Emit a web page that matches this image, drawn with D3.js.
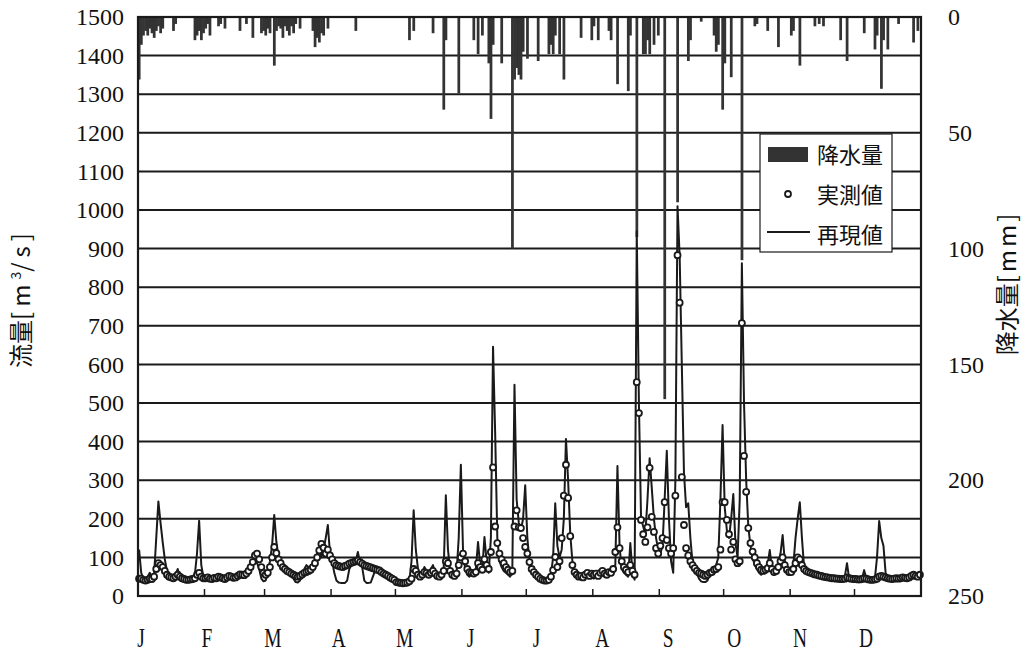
<!DOCTYPE html>
<html>
<head>
<meta charset="utf-8">
<script src="https://cdn.jsdelivr.net/npm/d3@7"></script>
<style>
  body { margin: 0; background: #fff; }
  text { fill: #111; }
</style>
</head>
<body>
<div id="chart"></div>
<script>
const width = 1025;
const height = 655;

// month labels and lengths (non-leap year)
const monthLabels = ["J", "F", "M", "A", "M", "J", "J", "A", "S", "O", "N", "D"];
const monthDays = [31, 28, 31, 30, 31, 30, 31, 31, 30, 31, 30, 31];

// simulated discharge (再現値), m3/s, one value per day, grouped by month
const simulatedFlow = [
  [120, 60, 45, 45, 50, 60, 48, 55, 150, 245, 190, 140, 95, 65, 55, 50, 45, 55, 70, 50, 45, 42, 40, 40, 42, 45, 55, 110, 195, 80, 50],
  [48, 50, 46, 45, 50, 48, 52, 50, 47, 45, 50, 55, 52, 48, 50, 55, 60, 58, 55, 60, 70, 80, 90, 95, 85, 70, 45, 38],
  [40, 60, 90, 130, 210, 140, 100, 85, 70, 75, 65, 70, 60, 45, 36, 35, 40, 55, 70, 80, 75, 70, 80, 95, 110, 120, 100, 120, 150, 184, 110],
  [90, 60, 40, 35, 34, 34, 34, 40, 70, 80, 85, 90, 114, 85, 75, 40, 34, 34, 35, 50, 65, 70, 65, 60, 55, 50, 48, 45, 42, 40],
  [36, 34, 33, 32, 33, 35, 40, 90, 222, 120, 70, 55, 60, 75, 65, 55, 70, 80, 60, 50, 55, 60, 70, 261, 120, 65, 55, 50, 60, 150, 340],
  [120, 70, 55, 50, 60, 55, 70, 140, 80, 70, 153, 90, 60, 150, 646, 420, 150, 90, 75, 65, 60, 55, 50, 70, 547, 250, 190, 170, 200, 287],
  [150, 90, 70, 60, 55, 50, 48, 45, 42, 40, 45, 55, 100, 240, 130, 100, 120, 200, 407, 300, 160, 90, 55, 48, 45, 42, 45, 50, 55, 50, 48],
  [45, 50, 48, 55, 60, 52, 50, 58, 55, 62, 80, 337, 127, 70, 60, 55, 50, 137, 60, 42, 945, 500, 200, 180, 160, 250, 357, 280, 200, 150, 120],
  [110, 130, 250, 376, 200, 90, 60, 300, 1010, 880, 600, 320, 230, 240, 150, 85, 70, 60, 45, 38, 36, 36, 40, 60, 55, 70, 80, 100, 250, 443],
  [230, 170, 150, 200, 264, 137, 100, 250, 862, 500, 300, 180, 130, 100, 80, 70, 60, 55, 60, 65, 80, 119, 70, 55, 60, 80, 110, 158, 90, 60, 55],
  [60, 80, 150, 200, 243, 150, 75, 65, 60, 58, 55, 55, 52, 50, 50, 48, 47, 46, 45, 45, 44, 44, 43, 43, 42, 50, 85, 45, 43, 42],
  [42, 42, 43, 45, 67, 45, 42, 42, 41, 45, 100, 194, 150, 130, 60, 48, 46, 45, 50, 47, 46, 48, 50, 47, 46, 45, 50, 48, 46, 44, 45]
];

// observed discharge (実測値), m3/s
const observedFlow = [
  [45, 45, 42, 40, 42, 45, 44, 50, 70, 85, 80, 75, 65, 55, 50, 48, 46, 50, 55, 50, 46, 44, 42, 42, 43, 44, 46, 55, 60, 50, 46],
  [46, 48, 45, 44, 47, 46, 50, 48, 46, 44, 48, 52, 50, 47, 48, 52, 56, 55, 54, 58, 65, 75, 88, 105, 110, 95, 75, 60],
  [55, 60, 75, 100, 127, 111, 95, 85, 75, 70, 65, 62, 58, 55, 52, 50, 52, 56, 60, 62, 65, 68, 75, 85, 100, 118, 135, 125, 110, 120, 105],
  [95, 85, 80, 78, 76, 75, 78, 80, 84, 86, 88, 90, 92, 88, 84, 80, 78, 76, 74, 72, 70, 68, 66, 62, 58, 55, 52, 48, 45, 42],
  [36, 35, 34, 33, 34, 35, 38, 45, 70, 65, 55, 50, 55, 62, 60, 55, 60, 65, 58, 52, 50, 55, 65, 90, 85, 65, 55, 52, 58, 80, 100],
  [110, 90, 70, 62, 60, 58, 62, 85, 75, 68, 95, 80, 70, 114, 333, 180, 137, 110, 95, 85, 75, 68, 62, 65, 180, 222, 178, 176, 150, 127],
  [110, 88, 70, 62, 55, 50, 45, 42, 40, 40, 42, 50, 67, 101, 75, 90, 150, 260, 340, 254, 155, 80, 62, 55, 50, 52, 48, 55, 60, 52, 58],
  [55, 58, 52, 60, 65, 58, 55, 62, 60, 70, 114, 178, 124, 90, 75, 68, 62, 80, 65, 55, 554, 474, 197, 160, 140, 178, 332, 205, 166, 124, 110],
  [130, 150, 243, 145, 124, 110, 124, 260, 883, 760, 308, 184, 124, 105, 90, 80, 72, 65, 60, 58, 55, 52, 55, 60, 62, 68, 70, 75, 120, 243],
  [243, 197, 160, 120, 140, 95, 85, 90, 707, 363, 270, 176, 137, 115, 100, 85, 75, 68, 65, 68, 72, 85, 70, 62, 65, 75, 90, 100, 80, 68, 62],
  [62, 70, 85, 100, 95, 80, 70, 65, 62, 60, 58, 56, 55, 53, 52, 50, 49, 48, 47, 46, 46, 45, 45, 44, 44, 45, 48, 46, 45, 44],
  [44, 43, 43, 44, 46, 45, 43, 42, 42, 43, 45, 50, 52, 50, 48, 46, 45, 44, 45, 46, 45, 46, 48, 47, 46, 48, 52, 55, 52, 50, 55]
];

// daily precipitation (降水量), mm; days without rain are zero
const rainDays = [0, 1, 2, 3, 4, 5, 6, 7, 8, 9, 10, 11, 16, 17, 26, 27, 28, 29, 30, 31, 32, 33, 37, 38, 40, 47, 50, 53,
  57, 58, 59, 60, 61, 63, 64, 65, 66, 67, 68, 69, 70, 71, 72, 73, 75, 81, 82, 83, 84, 85, 86, 88, 101, 126, 128, 137,
  142, 143, 149, 156, 158, 160, 163, 164, 165, 169, 174, 175, 176, 177, 178, 179, 181, 186, 191, 192, 193, 194, 196, 198,
  206, 211, 212, 214, 219, 220, 223, 228, 229, 232, 235, 236, 237, 238, 240, 242, 245, 251, 256, 257, 262, 268, 269, 270,
  272, 273, 276, 281, 287, 288, 293, 298, 304, 305, 308, 315, 317, 319, 327, 330, 338, 343, 344, 346, 347, 349, 354, 361, 363];
const rainMm = [27, 12, 8, 6, 8, 5, 7, 9, 6, 4, 7, 5, 6, 3, 10, 8, 6, 10, 7, 5, 3, 8, 4, 3, 5, 6, 3, 9,
  7, 6, 8, 5, 7, 21, 6, 4, 5, 9, 4, 6, 8, 4, 7, 3, 5, 6, 13, 9, 11, 7, 8, 5, 6, 10, 6, 7,
  40, 10, 33, 10, 16, 8, 20, 44, 12, 20, 100, 27, 22, 25, 27, 15, 18, 19, 16, 12, 16, 8, 16, 27,
  9, 10, 4, 10, 6, 10, 29, 32, 8, 95, 16, 16, 10, 16, 12, 8, 165, 80, 19, 10, 2, 8, 15, 12,
  40, 20, 26, 105, 4, 3, 6, 13, 8, 6, 21, 4, 3, 4, 10, 19, 7, 14, 8, 31, 10, 14, 3, 11, 6];

const flowTicks = d3.range(0, 1501, 100);
const rainTicks = [0, 50, 100, 150, 200, 250];

// flatten to one record per day
const obsAll = observedFlow.flat();
const daily = simulatedFlow.flat().map((v, i) => ({ day: i, sim: v, obs: obsAll[i] }));
const rain = rainDays.map((d, i) => ({ day: d, mm: rainMm[i] }));
const monthStarts = d3.cumsum(monthDays).slice(0, 11);

const plotL = 138, plotR = 921, plotT = 17, plotB = 596;
const ink = "#1a1a1a";
const serif = "'Liberation Serif', 'Times New Roman', serif";
const cjk = "'Noto Sans CJK JP', sans-serif";

const svg = d3.select("#chart").append("svg")
    .attr("width", width)
    .attr("height", height)
    .style("font-family", serif);

const x = d3.scaleLinear().domain([0, 365]).range([plotL, plotR]);
const yFlow = d3.scaleLinear().domain([0, 1500]).range([plotB, plotT]);
const yRain = d3.scaleLinear().domain([0, 250]).range([plotT, plotB]);

// horizontal grid
svg.append("g").selectAll("line")
    .data(flowTicks.slice(1, -1))
    .join("line")
    .attr("x1", plotL).attr("x2", plotR)
    .attr("y1", d => yFlow(d)).attr("y2", d => yFlow(d))
    .attr("stroke", ink).attr("stroke-width", 2);

// precipitation bars hanging from the top
const dayW = x(1) - x(0);
svg.append("g").selectAll("rect")
    .data(rain)
    .join("rect")
    .attr("x", d => x(d.day) - 0.2)
    .attr("y", plotT)
    .attr("width", dayW + 0.6)
    .attr("height", d => yRain(d.mm) - plotT)
    .attr("fill", "#333");

// simulated line
const line = d3.line()
    .x(d => x(d.day + 0.5))
    .y(d => yFlow(d.sim));

svg.append("path")
    .datum(daily)
    .attr("fill", "none")
    .attr("stroke", ink)
    .attr("stroke-width", 2)
    .attr("stroke-linejoin", "round")
    .attr("d", line);

// observed points
svg.append("g").selectAll("circle")
    .data(daily)
    .join("circle")
    .attr("cx", d => x(d.day + 0.5))
    .attr("cy", d => yFlow(d.obs))
    .attr("r", 3)
    .attr("fill", "#fff")
    .attr("stroke", ink)
    .attr("stroke-width", 1.8);

// frame
svg.append("rect")
    .attr("x", plotL).attr("y", plotT)
    .attr("width", plotR - plotL).attr("height", plotB - plotT)
    .attr("fill", "none").attr("stroke", ink).attr("stroke-width", 2.2);

// month ticks on the bottom axis
svg.append("g").selectAll("line")
    .data(monthStarts)
    .join("line")
    .attr("x1", d => x(d)).attr("x2", d => x(d))
    .attr("y1", plotB).attr("y2", plotB - 7)
    .attr("stroke", ink).attr("stroke-width", 1.5);

// axes labels
const leftAxis = d3.axisLeft(yFlow).tickValues(flowTicks).tickFormat(d3.format("d"))
    .tickSize(0).tickPadding(14);
svg.append("g")
    .attr("transform", `translate(${plotL},0)`)
    .call(leftAxis)
    .call(g => g.select(".domain").remove())
    .attr("font-family", null)
    .selectAll("text")
    .style("font-family", serif)
    .style("font-size", "24px")
    .attr("fill", ink);

const rightAxis = d3.axisRight(yRain).tickValues(rainTicks).tickFormat(d3.format("d"))
    .tickSize(0).tickPadding(27);
svg.append("g")
    .attr("transform", `translate(${plotR},0)`)
    .call(rightAxis)
    .call(g => g.select(".domain").remove())
    .attr("font-family", null)
    .selectAll("text")
    .style("font-family", serif)
    .style("font-size", "24px")
    .attr("fill", ink);

const monthX = d3.scalePoint().domain(d3.range(12)).range([141, 866]);
svg.append("g").selectAll("text")
    .data(monthLabels)
    .join("text")
    .attr("transform", (d, i) => `translate(${monthX(i)},647) scale(0.72,1)`)
    .attr("text-anchor", "middle")
    .attr("font-size", 27)
    .text(d => d);

// axis titles
const leftTitle = svg.append("text")
    .attr("transform", "translate(30,298) rotate(-90)")
    .attr("text-anchor", "middle")
    .style("font-family", cjk)
    .attr("font-size", 24);
leftTitle.append("tspan").text("流量");
leftTitle.append("tspan").attr("letter-spacing", 5).text("[m");
leftTitle.append("tspan").attr("dy", -9).attr("font-size", 14).text("3");
leftTitle.append("tspan").attr("dy", 9).attr("letter-spacing", 5).text("/s]");

const rightTitle = svg.append("text")
    .attr("transform", "translate(1016,283) rotate(-90)")
    .attr("text-anchor", "middle")
    .style("font-family", cjk)
    .attr("font-size", 24);
rightTitle.append("tspan").text("降水量");
rightTitle.append("tspan").attr("letter-spacing", 3).text("[mm]");

// legend
const legend = svg.append("g").style("font-family", cjk).attr("font-size", 22);
legend.append("rect")
    .attr("x", 760).attr("y", 134).attr("width", 132).attr("height", 118)
    .attr("fill", "#fff").attr("stroke", ink).attr("stroke-width", 1.2);
legend.append("rect")
    .attr("x", 768).attr("y", 147).attr("width", 40).attr("height", 15)
    .attr("fill", "#333");
legend.append("circle")
    .attr("cx", 788).attr("cy", 194).attr("r", 3)
    .attr("fill", "#fff").attr("stroke", ink).attr("stroke-width", 1.8);
legend.append("line")
    .attr("x1", 767).attr("x2", 810).attr("y1", 232).attr("y2", 232)
    .attr("stroke", ink).attr("stroke-width", 2);
legend.selectAll("text.lab")
    .data(["降水量", "実測値", "再現値"])
    .join("text")
    .attr("class", "lab")
    .attr("x", 817)
    .attr("y", (d, i) => 155 + i * 40)
    .attr("dy", "0.36em")
    .text(d => d);
</script>
</body>
</html>
